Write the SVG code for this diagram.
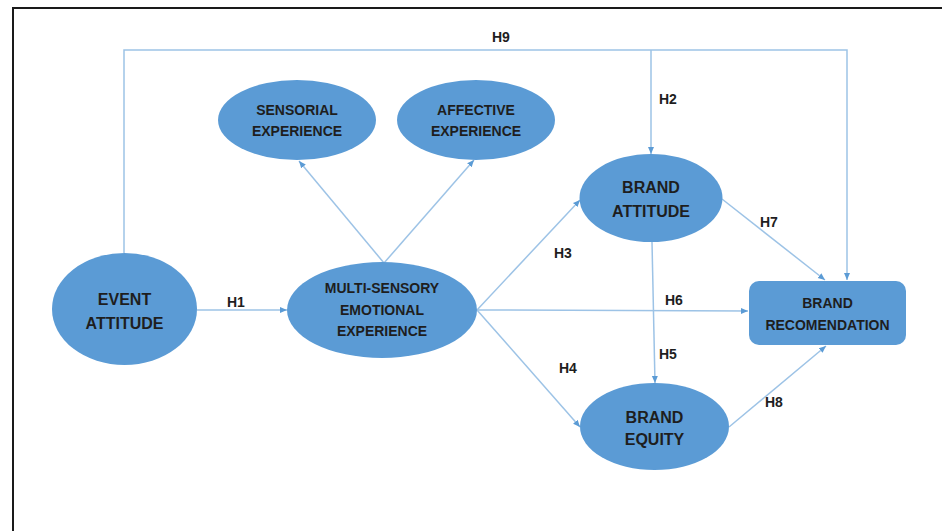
<svg xmlns="http://www.w3.org/2000/svg" width="942" height="531" viewBox="0 0 942 531">
  <style>
    .node { fill: #5B9BD5; }
    .lbl { font-family: "Liberation Sans", Arial, sans-serif; font-weight: bold; fill: #1e1e1e; text-anchor: middle; }
    .s14 { font-size: 14px; }
    .s16 { font-size: 16px; }
    .hyp { font-family: "Liberation Sans", Arial, sans-serif; font-weight: bold; font-size: 14px; fill: #1e1e1e; }
    .edge { fill: none; stroke: #9DC3E6; stroke-width: 1.5; }
    .arr { marker-end: url(#head); }
  </style>
  <defs>
    <marker id="head" markerUnits="userSpaceOnUse" markerWidth="8" markerHeight="8" refX="7" refY="4" orient="auto">
      <path d="M0,1 L7,4 L0,7 Z" fill="#5B9BD5"/>
    </marker>
  </defs>

  <rect width="942" height="531" fill="#ffffff"/>

  <!-- frame -->
  <path d="M13,531 V8 H942" fill="none" stroke="#1a1a1a" stroke-width="2"/>

  <!-- connectors -->
  <g id="connectors">
    <polyline class="edge arr" points="124,253 124,50 847,50 847,280"/>
    <line class="edge arr" x1="651" y1="50" x2="651" y2="154"/>
    <line class="edge arr" x1="197" y1="310" x2="287" y2="310"/>
    <line class="edge arr" x1="384" y1="263" x2="299" y2="161"/>
    <line class="edge arr" x1="384" y1="263" x2="474" y2="160"/>
    <line class="edge arr" x1="477" y1="310" x2="580" y2="200"/>
    <line class="edge arr" x1="477" y1="310" x2="748" y2="311"/>
    <line class="edge arr" x1="477" y1="310" x2="580" y2="427"/>
    <line class="edge arr" x1="652" y1="242" x2="655" y2="383"/>
    <line class="edge arr" x1="722" y1="199" x2="825" y2="280"/>
    <line class="edge arr" x1="729" y1="427" x2="826" y2="346"/>

    <text class="hyp" x="492" y="42">H9</text>
    <text class="hyp" x="659" y="104">H2</text>
    <text class="hyp" x="227" y="307">H1</text>
    <text class="hyp" x="554" y="258">H3</text>
    <text class="hyp" x="665" y="305">H6</text>
    <text class="hyp" x="559" y="373">H4</text>
    <text class="hyp" x="659" y="359">H5</text>
    <text class="hyp" x="760" y="227">H7</text>
    <text class="hyp" x="765" y="407">H8</text>
  </g>

  <!-- nodes -->
  <g id="sensorial-experience">
    <ellipse class="node" cx="297" cy="120" rx="79" ry="40"/>
    <text class="lbl s14" x="297" y="115">SENSORIAL</text>
    <text class="lbl s14" x="297" y="136">EXPERIENCE</text>
  </g>
  <g id="affective-experience">
    <ellipse class="node" cx="476" cy="120" rx="79" ry="40"/>
    <text class="lbl s14" x="476" y="115">AFFECTIVE</text>
    <text class="lbl s14" x="476" y="136">EXPERIENCE</text>
  </g>
  <g id="event-attitude">
    <ellipse class="node" cx="124.5" cy="309" rx="72.5" ry="56"/>
    <text class="lbl s16" x="124.5" y="305">EVENT</text>
    <text class="lbl s16" x="124.5" y="329">ATTITUDE</text>
  </g>
  <g id="multi-sensory-experience">
    <ellipse class="node" cx="382" cy="310" rx="95" ry="48"/>
    <text class="lbl s14" x="382" y="293">MULTI-SENSORY</text>
    <text class="lbl s14" x="382" y="315">EMOTIONAL</text>
    <text class="lbl s14" x="382" y="336">EXPERIENCE</text>
  </g>
  <g id="brand-attitude">
    <ellipse class="node" cx="651" cy="198" rx="71.5" ry="44"/>
    <text class="lbl s16" x="651" y="193">BRAND</text>
    <text class="lbl s16" x="651" y="217">ATTITUDE</text>
  </g>
  <g id="brand-equity">
    <ellipse class="node" cx="654.5" cy="426.5" rx="74.5" ry="43.5"/>
    <text class="lbl s16" x="654.5" y="423">BRAND</text>
    <text class="lbl s16" x="654.5" y="445">EQUITY</text>
  </g>
  <g id="brand-recommendation">
    <rect class="node" x="749" y="281" width="157" height="64" rx="10" ry="10"/>
    <text class="lbl s14" x="827.5" y="308">BRAND</text>
    <text class="lbl s14" x="827.5" y="330">RECOMENDATION</text>
  </g>
</svg>
